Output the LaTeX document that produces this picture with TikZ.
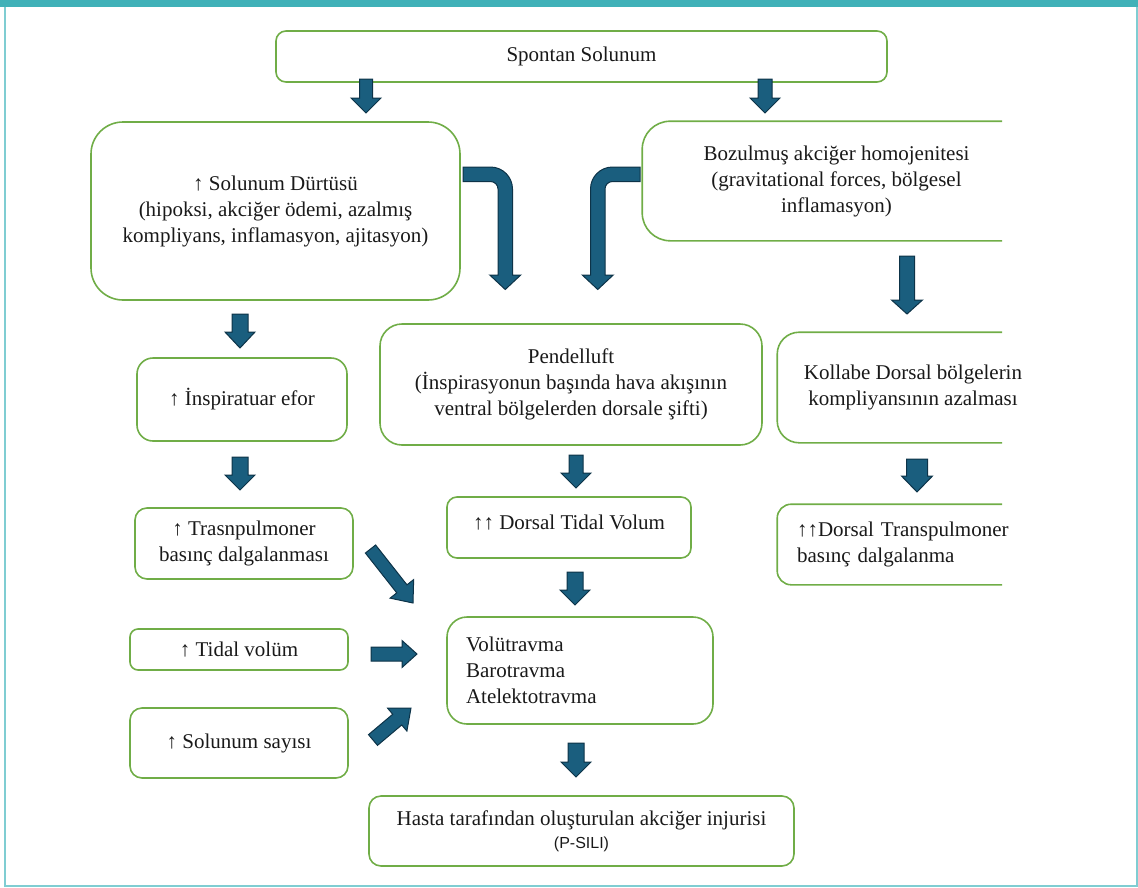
\documentclass[tikz,border=0pt]{standalone}
\usepackage{fontspec}
\setmainfont{Liberation Serif}
\newfontfamily\psans{Liberation Sans}
\usepackage{tikz}
\usetikzlibrary{calc}

\definecolor{boxgreen}{HTML}{70AD47}
\definecolor{arrfill}{HTML}{1A5E7E}
\definecolor{arrline}{HTML}{0D3348}
\definecolor{framebar}{HTML}{40B1B8}
\definecolor{frameline}{HTML}{7FCDD2}

\tikzset{
  box/.style={draw=boxgreen, line width=1.6pt, rounded corners=#1,
    align=center, font=\fontsize{21}{26}\selectfont, text=black!90, inner sep=0pt},
  box/.default=12pt,
  boxline/.style={draw=boxgreen, line width=1.6pt, rounded corners=#1},
  flowarr/.style={fill=arrfill, draw=arrline, line width=1pt, line join=miter}
}

% block arrow: tail, tip, half shaft, half head, head length
\newcommand\blockarr[5]{%
  \coordinate (ba-h) at ($(#2)!#5!(#1)$);
  \draw[flowarr] ($(#1)!#3!90:(#2)$) -- ($(ba-h)!#3!90:(#2)$)
    -- ($(ba-h)!#4!90:(#2)$) -- (#2) -- ($(ba-h)!#4!-90:(#2)$)
    -- ($(ba-h)!#3!-90:(#2)$) -- ($(#1)!#3!-90:(#2)$) -- cycle;
}

\begin{document}
\begin{tikzpicture}[x=1pt,y=-1pt]
\useasboundingbox (0,0) rectangle (1138,887);

% frame
\fill[framebar] (0,0) rectangle (1138,7);
\draw[frameline, line width=2pt] (5,7) -- (5,885.5) -- (1136.5,885.5) -- (1136.5,7);

% boxes
\node[box=10pt, minimum width=611pt, minimum height=51pt] (spontan) at (581.5,56.5) {Spontan Solunum};
\node[box=32pt, minimum width=369pt, minimum height=178pt] (durtu) at (275.5,211)
  {↑ Solunum Dürtüsü\\(hipoksi, akciğer ödemi, azalmış\\kompliyans, inflamasyon, ajitasyon)};
\node[box=28pt, draw=none, minimum width=387pt, minimum height=118pt] (bozul) at (836.5,181)
  {Bozulmuş akciğer homojenitesi\\(gravitational forces, bölgesel\\inflamasyon)};
\node[box=16pt, minimum width=210pt, minimum height=83pt] (insp) at (242,399.5) {↑ İnspiratuar efor};
\node[box=22pt, minimum width=382pt, minimum height=121pt] (pendel) at (571,384.5)
  {Pendelluft\\(İnspirasyonun başında hava akışının\\ventral bölgelerden dorsale şifti)};
\node[box=22pt, draw=none, minimum width=270pt, minimum height=109pt] (kollabe) at (913,387.5)
  {Kollabe Dorsal bölgelerin\\kompliyansının azalması};
\node[box=12pt, minimum width=218pt, minimum height=71pt] (trasn) at (244,543.5)
  {↑ Trasnpulmoner\\basınç dalgalanması};
\node[box=10pt, minimum width=244pt, minimum height=61pt, text depth=11pt] (dtidal) at (569,527.5)
  {↑↑ Dorsal Tidal Volum};
\node[box=14pt, draw=none, minimum width=262pt, minimum height=79pt, text width=224pt, align=left] (dtrans) at (909,544.5)
  {↑↑Dorsal Transpulmoner\\basınç dalgalanma};
\node[box=8pt, minimum width=218pt, minimum height=41pt] (tidal) at (239,649.5) {↑ Tidal volüm};
\node[box=20pt, minimum width=266pt, minimum height=107pt, text width=228pt, align=left] (volu) at (580,670.5)
  {Volütravma\\Barotravma\\Atelektotravma};
\node[box=12pt, minimum width=218pt, minimum height=70pt] (sayisi) at (239,743) {↑ Solunum sayısı};
\node[box=12pt, minimum width=425pt, minimum height=70pt] (hasta) at (581.5,831)
  {Hasta tarafından oluşturulan akciğer injurisi\\[-3pt]{\psans\fontsize{16}{19}\selectfont (P-SILI)}};

% boxes running out of the frame on the right
\begin{scope}
  \clip (0,0) rectangle (1002,887);
  \draw[boxline=28pt] (bozul.north west) rectangle (bozul.south east);
  \draw[boxline=22pt] (kollabe.north west) rectangle (kollabe.south east);
  \draw[boxline=14pt] (dtrans.north west) rectangle (dtrans.south east);
\end{scope}

% straight block arrows
\blockarr{366,79}{366,113}{6.5pt}{15pt}{15pt}
\blockarr{765,79}{765,113}{7pt}{15pt}{15pt}
\blockarr{907,256}{907,314}{7.5pt}{15.5pt}{14pt}
\blockarr{240,314}{240,348}{8pt}{15pt}{16pt}
\blockarr{240,457}{240,490}{8pt}{15pt}{15pt}
\blockarr{576,455}{576,488}{7pt}{15pt}{15pt}
\blockarr{917,459}{917,492}{10.5pt}{15.5pt}{16pt}
\blockarr{575,572}{575,605}{8pt}{15pt}{15pt}
\blockarr{576,743}{576,777}{8pt}{15pt}{15pt}
\blockarr{370.5,549}{413,603}{6.5pt}{15pt}{18pt}
\blockarr{371,654}{417,654}{7pt}{13.5pt}{15pt}
\blockarr{373,740}{411,708}{7pt}{15pt}{18pt}

% bent block arrows
\draw[flowarr] (463,167) -- (490.5,167)
  .. controls (502.65,167) and (512.5,176.85) .. (512.5,189)
  -- (512.5,275) -- (520.75,275) -- (505.25,289.5) -- (489.75,275) -- (498,275)
  -- (498,189) .. controls (498,184.86) and (494.64,181.5) .. (490.5,181.5)
  -- (463,181.5) -- cycle;
\draw[flowarr] (640,167) -- (612.5,167)
  .. controls (600.35,167) and (590.5,176.85) .. (590.5,189)
  -- (590.5,275) -- (582.25,275) -- (597.75,289.5) -- (613.25,275) -- (605,275)
  -- (605,189) .. controls (605,184.86) and (608.36,181.5) .. (612.5,181.5)
  -- (640,181.5) -- cycle;

\end{tikzpicture}
\end{document}
